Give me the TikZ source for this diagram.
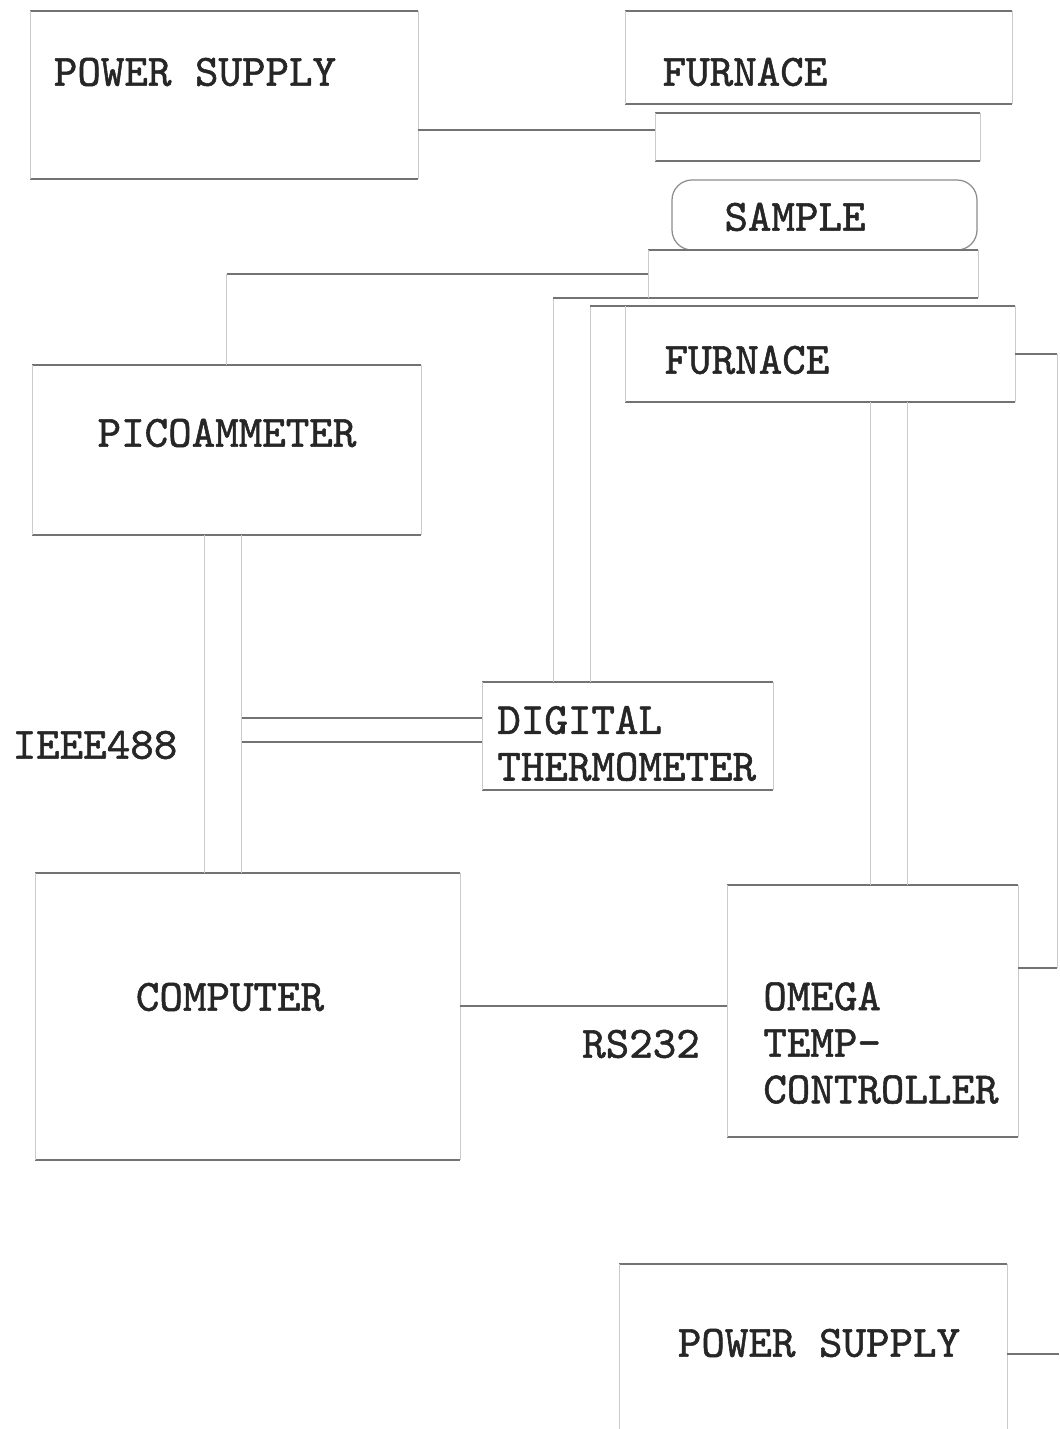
\documentclass[tikz,border=0pt]{standalone}
\usepackage{fontspec}
\newfontfamily\typew[FakeBold=1.2]{lmmono10-regular.otf}
\usetikzlibrary{calc,fit}

\tikzset{
  hline/.style={draw=black!55, line width=0.9pt},
  vline/.style={draw=black!20, line width=0.5pt},
  box/.style={inner sep=0pt, outer sep=0pt},
  lbl/.style={font=\typew\fontsize{25.5}{26.5}\selectfont, inner sep=0pt, align=left, text=black!85},
}

\begin{document}
\begin{tikzpicture}[x=0.02cm, y=-0.02cm]
    \useasboundingbox (0,0) rectangle (1059,1429);
    \clip (0,0) rectangle (1059,1429);

    % Boxes (px coordinates, y downwards)
    \node[box, fit={(30,11) (418,179)}] (ps1) {};
    \node[box, fit={(625,11) (1012,104)}] (fur1) {};
    \node[box, fit={(655,113) (980,161)}] (etop) {};
    \node[box, draw=black!45, line width=0.7pt, rounded corners=0.4cm, fit={(672,180) (977,250)}] (samp) {};
    \node[box, fit={(648,250) (978,298)}] (ebot) {};
    \node[box, fit={(32,365) (421,535)}] (pico) {};
    \node[box, fit={(625,306) (1015,402)}] (fur2) {};
    \node[box, fit={(482,682) (773,790)}] (therm) {};
    \node[box, fit={(35,873) (460,1160)}] (comp) {};
    \node[box, fit={(727,885) (1018,1137)}] (omega) {};
    \node[box, fit={(619,1264) (1007,1500)}] (ps2) {};

    % Box edges: dark tops and bottoms, faint sides
    \foreach \b in {ps1,fur1,etop,ebot,pico,fur2,therm,comp,omega,ps2} {
        \draw[hline] (\b.north west) -- (\b.north east) (\b.south west) -- (\b.south east);
        \draw[vline] (\b.north west) -- (\b.south west) (\b.north east) -- (\b.south east);
    }

    % Labels
    \node[lbl] (ps1t) at (195,72) {POWER SUPPLY};
    \node[lbl] (fur1t) at (745,72) {FURNACE};
    \node[lbl] (sampt) at (795,217) {SAMPLE};
    \node[lbl] (fur2t) at (747,360) {FURNACE};
    \node[lbl] (picot) at (227,433) {PICOAMMETER};
    \node[lbl, anchor=west] (thermt) at (497,743.5) {DIGITAL\\THERMOMETER};
    \node[lbl] (ieee) at (95,745) {IEEE488};
    \node[lbl] (compt) at (230,997) {COMPUTER};
    \node[lbl] (rs) at (641,1044) {RS232};
    \node[lbl, anchor=west] (omegat) at (763,1043) {OMEGA\\TEMP-\\CONTROLLER};
    \node[lbl] (ps2t) at (819,1343) {POWER SUPPLY};

    % Power supply to top electrode
    \coordinate (c1) at (0,130);
    \draw[hline] (ps1.east |- c1) -- (etop.west |- c1);

    % Picoammeter to bottom electrode
    \draw[vline] (pico.north) -- (pico.north |- ebot.west);
    \draw[hline] (pico.north |- ebot.west) -- (ebot.west);

    % Thermocouple wires
    \coordinate (w1) at ($(therm.north west)+(71,0)$);
    \coordinate (w2) at ($(therm.north west)+(108,0)$);
    \draw[vline] (w1) -- (w1 |- ebot.south);
    \draw[hline] (w1 |- ebot.south) -- (ebot.south west);
    \draw[vline] (w2) -- (w2 |- fur2.north);
    \draw[hline] (w2 |- fur2.north) -- (fur2.north west);

    % IEEE488 bus
    \coordinate (b1) at ($(pico.south)+(-22,0)$);
    \coordinate (b2) at ($(pico.south)+(15,0)$);
    \draw[vline] (b1) -- (b1 |- comp.north);
    \draw[vline] (b2) -- (b2 |- comp.north);
    \coordinate (t1) at ($(therm.west)+(0,-18)$);
    \coordinate (t2) at ($(therm.west)+(0,6)$);
    \draw[hline] (b2 |- t1) -- (t1);
    \draw[hline] (b2 |- t2) -- (t2);

    % RS232
    \coordinate (r1) at (0,1006);
    \draw[hline] (comp.east |- r1) -- (omega.west |- r1);

    % Controller to furnace
    \coordinate (o1) at ($(omega.north)+(-2,0)$);
    \coordinate (o2) at ($(omega.north)+(35,0)$);
    \draw[vline] (o1) -- (o1 |- fur2.south);
    \draw[vline] (o2) -- (o2 |- fur2.south);
    \coordinate (rt) at (1057,0);
    \coordinate (o3) at ($(omega.east)+(0,-43)$);
    \draw[hline] (fur2.east) -- (fur2.east -| rt);
    \draw[vline] (fur2.east -| rt) -- (o3 -| rt);
    \draw[hline] (o3 -| rt) -- (o3);

    % Lower power supply lead
    \coordinate (p2) at (1059,1354);
    \draw[hline] (ps2.east |- p2) -- (p2);
\end{tikzpicture}
\end{document}
